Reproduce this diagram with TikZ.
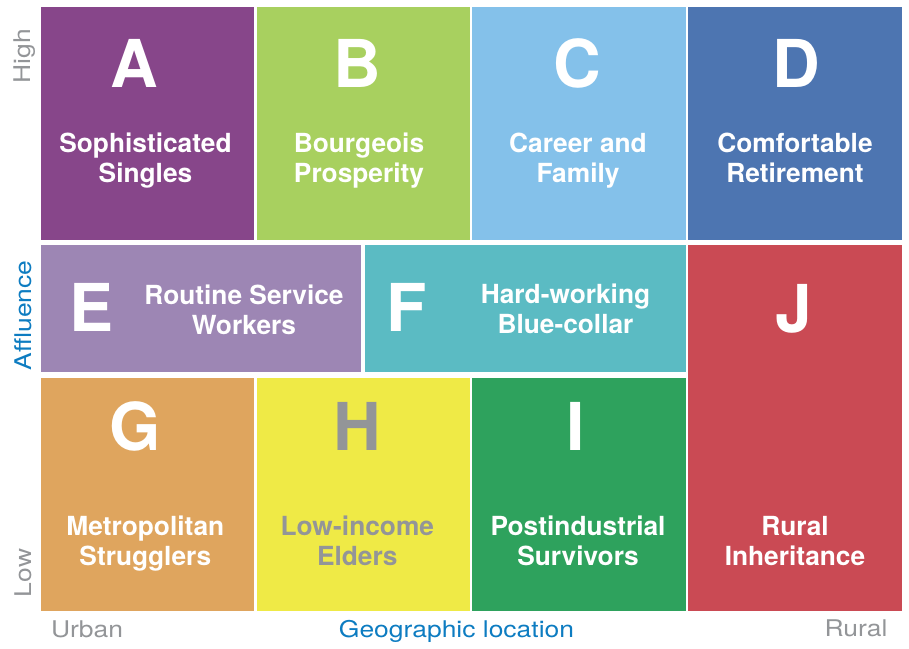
\documentclass[tikz,border=0pt]{standalone}
\usepackage{fontspec}
\setmainfont{TeX Gyre Heros}
\newfontfamily\axisfont[FakeStretch=1.15]{TeX Gyre Heros}

\definecolor{cA}{HTML}{87468A}
\definecolor{cB}{HTML}{A8D05F}
\definecolor{cC}{HTML}{84C1EA}
\definecolor{cD}{HTML}{4D75B1}
\definecolor{cE}{HTML}{9D86B4}
\definecolor{cF}{HTML}{5BBBC3}
\definecolor{cG}{HTML}{DFA55E}
\definecolor{cH}{HTML}{EFEA46}
\definecolor{cI}{HTML}{2EA25D}
\definecolor{cJ}{HTML}{CA4A54}
\definecolor{txtgray}{HTML}{939598}
\definecolor{axisblue}{HTML}{0D7CC1}

\begin{document}
\begin{tikzpicture}[x=1pt, y=-1pt,
  cell/.style={inner sep=0pt, outer sep=0pt},
  tag/.style={font=\bfseries\fontsize{66}{66}\selectfont, text=white, anchor=base, inner sep=0pt},
  seg/.style={font=\bfseries\fontsize{26.3}{30}\selectfont, text=white, align=center, anchor=north, inner sep=0pt},
  axislbl/.style={font=\axisfont\fontsize{23}{28}\selectfont, text=txtgray, anchor=base, inner sep=0pt}
]
\useasboundingbox (0,0) rectangle (909,648);

% segment cells, three rows
\node[cell, fill=cA, minimum width=213.5pt, minimum height=232.7pt] (cellA) at (147.45,123.65) {};
\node[cell, fill=cB, minimum width=213.5pt, minimum height=232.7pt] (cellB) at (363.45,123.65) {};
\node[cell, fill=cC, minimum width=213.5pt, minimum height=232.7pt] (cellC) at (579.05,123.65) {};
\node[cell, fill=cD, minimum width=213.5pt, minimum height=232.7pt] (cellD) at (794.75,123.65) {};
\node[cell, fill=cE, minimum width=320.3pt, minimum height=127pt] (cellE) at (200.85,308.5) {};
\node[cell, fill=cF, minimum width=321.3pt, minimum height=127pt] (cellF) at (525.15,308.5) {};
\node[cell, fill=cJ, minimum width=213.5pt, minimum height=365.5pt] (cellJ) at (794.75,427.75) {};
\node[cell, fill=cG, minimum width=213.5pt, minimum height=233pt] (cellG) at (147.45,494) {};
\node[cell, fill=cH, minimum width=213.5pt, minimum height=233pt] (cellH) at (363.45,494) {};
\node[cell, fill=cI, minimum width=213.5pt, minimum height=233pt] (cellI) at (579.05,494) {};

% letters
\node[tag] (tagA) at (134.5,87) {A};
\node[tag] (tagB) at (357,87) {B};
\node[tag] (tagC) at (577,87) {C};
\node[tag] (tagD) at (796,87) {D};
\node[tag] (tagE) at (91.5,331.5) {E};
\node[tag] (tagF) at (407,331.5) {F};
\node[tag] (tagJ) at (793.7,332.5) {J};
\node[tag] (tagG) at (135,450) {G};
\node[tag, text=txtgray] (tagH) at (357,450) {H};
\node[tag] (tagI) at (575.6,450) {I};

% segment names
\node[seg] (segA) at (145.5,132.5) {Sophisticated\\Singles};
\node[seg] (segB) at (359,132.5) {Bourgeois\\Prosperity};
\node[seg] (segC) at (578,132.5) {Career and\\Family};
\node[seg] (segD) at (795,132.5) {Comfortable\\Retirement};
\node[seg] (segE) at (244,284.5) {Routine Service\\Workers};
\node[seg] (segF) at (565.5,283.5) {Hard-working\\Blue-collar};
\node[seg] (segJ) at (795,516.5) {Rural\\Inheritance};
\node[seg] (segG) at (145.3,515.5) {Metropolitan\\Strugglers};
\node[seg, text=txtgray] (segH) at (357.3,516) {Low-income\\Elders};
\node[seg] (segI) at (578,516) {Postindustrial\\Survivors};

% axes
\node[axislbl, rotate=90] (high) at (30,56) {High};
\node[axislbl, rotate=90, text=axisblue] (affl) at (31.5,315.5) {Affluence};
\node[axislbl, rotate=90] (low) at (31.5,573) {Low};
\node[axislbl] (urban) at (87,637) {Urban};
\node[axislbl, text=axisblue] (geo) at (456.5,637.3) {Geographic location};
\node[axislbl] (rural) at (856,636.7) {Rural};
\end{tikzpicture}
\end{document}
